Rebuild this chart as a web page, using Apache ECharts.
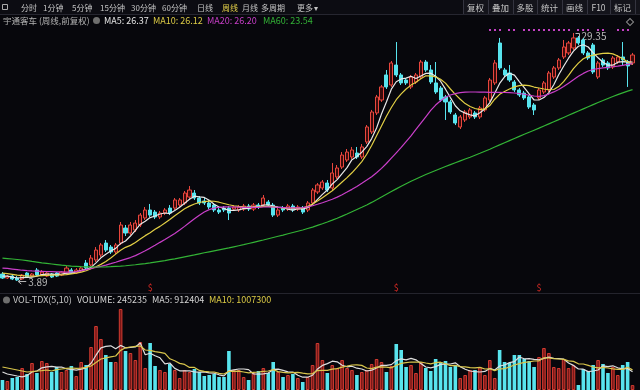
<!DOCTYPE html>
<html><head><meta charset="utf-8">
<script src="https://cdn.jsdelivr.net/npm/echarts@6/dist/echarts.min.js"></script>
<style>html,body{margin:0;padding:0;background:#07070c;}#c{width:640px;height:390px;}</style>
</head><body><div id="c"></div><script>
// ---- data (weekly, front-adjusted) ----
const candles = [ // [open, close, low, high]
[4.61,4.20,4.10,4.81],[4.20,4.40,4.10,4.51],[4.40,4.10,3.99,4.61],[4.20,3.99,3.89,4.40],[4.10,4.51,3.99,4.61],
[4.71,4.30,4.20,4.81],[4.40,4.61,4.30,4.71],[5.02,4.51,4.40,5.22],[4.51,4.81,4.40,5.02],[4.40,4.71,4.30,4.81],
[4.61,4.30,4.20,4.71],[4.71,4.40,4.30,4.81],[4.51,4.81,4.40,4.92],[4.71,5.22,4.61,5.43],[5.02,4.71,4.61,5.22],
[4.71,5.02,4.61,5.22],[4.92,5.22,4.81,5.43],[5.74,5.22,5.02,6.05],[5.53,6.25,5.43,6.56],[6.05,7.07,5.84,7.38],
[6.56,7.59,6.35,7.79],[7.79,7.07,6.87,8.10],[7.38,6.87,6.66,7.59],[6.87,7.59,6.66,7.79],[7.79,9.64,7.59,9.95],
[9.33,8.82,8.51,9.64],[8.82,9.64,8.61,9.95],[9.13,9.84,8.92,10.15],[9.64,10.66,9.43,10.87],[10.36,11.18,10.15,11.49],
[11.18,10.66,10.46,11.80],[10.97,10.46,10.25,11.18],[10.46,10.87,10.25,11.08],[10.87,11.18,10.66,11.38],[11.38,10.87,10.66,11.69],
[11.38,12.21,11.18,12.41],[11.69,12.21,11.49,12.41],[11.90,12.92,11.69,13.13],[12.51,13.23,12.31,13.64],[12.92,12.41,12.21,13.23],
[12.41,11.90,11.69,12.62],[12.10,11.90,11.69,12.41],[11.90,11.49,11.28,12.21],[11.69,11.18,10.97,11.90],[11.18,10.97,10.77,11.38],
[11.38,11.18,10.97,11.59],[11.38,10.87,10.15,11.59],[11.28,11.49,11.08,11.69],[11.18,11.49,10.97,11.69],[11.28,11.59,11.08,11.80],
[11.59,11.28,11.08,11.80],[11.28,11.69,11.08,11.90],[11.69,11.49,11.28,11.90],[11.69,12.41,11.49,12.72],[12.00,11.69,11.49,12.21],
[11.69,10.66,10.46,11.90],[10.66,11.18,10.46,11.38],[11.38,11.18,10.97,11.59],[11.28,11.59,11.08,11.80],[11.59,11.18,10.97,11.80],
[11.28,11.49,11.08,11.69],[11.38,10.97,10.77,11.59],[11.18,11.90,10.97,12.10],[11.90,13.23,11.69,13.44],[13.03,13.75,12.82,13.95],
[13.44,14.05,13.23,14.26],[13.95,13.23,13.03,14.26],[13.44,14.98,13.23,16.00],[14.57,15.49,14.36,15.80],[15.59,16.82,15.39,17.13],
[16.31,17.13,16.11,17.44],[16.62,17.34,16.41,17.65],[17.03,16.62,16.41,17.65],[16.62,17.65,16.41,17.95],[18.16,19.70,17.95,19.90],
[19.19,21.24,18.98,21.45],[21.14,22.78,20.93,22.99],[22.47,23.81,22.27,24.01],[25.04,23.81,23.60,25.55],[24.01,26.27,23.81,26.47],
[26.06,25.04,24.83,28.42],[25.04,24.22,24.01,25.24],[24.52,24.22,24.01,24.73],[23.81,24.83,23.60,25.04],[24.32,25.04,24.11,25.24],
[24.83,26.37,24.63,26.58],[26.37,25.55,25.35,26.58],[25.55,24.32,24.11,26.06],[24.22,23.29,23.09,26.37],[23.70,22.47,22.27,23.91],
[22.78,22.27,20.42,22.99],[22.27,21.24,21.03,22.47],[20.93,20.11,19.90,21.14],[19.70,20.73,19.49,20.93],[20.42,21.24,20.21,21.45],
[20.73,21.45,20.52,21.65],[21.14,20.73,20.52,21.34],[20.73,21.65,20.52,21.86],[21.45,22.68,21.24,22.88],[22.47,24.52,22.27,24.73],
[24.22,26.27,24.01,26.58],[28.32,25.76,25.55,28.84],[25.55,25.04,24.83,25.76],[25.24,24.52,24.32,26.06],[24.32,23.50,23.29,24.52],
[23.50,22.99,22.78,23.70],[23.19,22.68,22.47,23.40],[22.78,21.75,21.55,22.99],[21.96,21.45,20.93,22.16],[22.68,23.50,22.47,23.70],
[23.29,24.22,23.09,24.42],[23.50,25.24,23.29,25.45],[24.83,25.76,24.63,25.96],[25.76,26.58,25.55,26.78],[26.89,27.91,26.68,28.63],
[27.30,28.32,27.09,28.53],[27.81,28.84,27.60,29.35],[28.84,28.32,28.12,29.04],[28.63,27.30,27.09,28.84],[27.30,26.78,26.58,27.50],
[28.12,25.35,25.14,28.32],[24.83,26.27,24.63,26.47],[26.58,26.06,25.86,26.78],[26.27,25.76,25.55,26.47],[25.86,26.78,25.65,26.99],
[26.37,26.89,26.17,27.09],[26.89,26.58,26.06,28.42],[26.37,25.96,23.81,26.58],[26.27,27.09,26.06,27.30]
];
const ma5 = [4.40,4.40,4.30,4.20,4.24,4.26,4.30,4.38,4.55,4.59,4.59,4.55,4.61,4.69,4.69,4.84,5.00,5.08,5.29,5.76,
6.27,6.64,6.97,7.24,7.75,8.00,8.51,9.10,9.72,10.03,10.40,10.56,10.77,10.87,10.81,11.12,11.47,11.88,12.29,12.60,
12.53,12.47,12.18,11.77,11.49,11.34,11.14,11.14,11.20,11.32,11.34,11.51,11.51,11.69,11.72,11.59,11.49,11.42,11.26,11.16,
11.32,11.28,11.42,11.75,12.27,12.78,13.23,13.85,14.30,14.92,15.53,16.35,16.68,17.11,17.69,18.51,19.60,21.03,22.27,23.58,
24.34,24.63,24.71,24.91,24.67,24.94,25.20,25.22,24.91,24.40,23.58,22.72,21.88,21.36,21.12,20.95,20.85,21.16,21.55,22.20,
23.17,24.17,24.85,25.22,25.02,24.36,23.74,23.09,22.47,22.47,22.72,23.23,24.03,25.06,25.94,26.76,27.48,27.99,28.14,27.91,
27.32,26.80,26.35,26.04,26.04,26.35,26.41,26.39,26.37];
const ma10 = [4.71,4.65,4.58,4.50,4.45,4.42,4.40,4.42,4.45,4.48,4.50,4.51,4.52,4.55,4.62,4.70,4.80,4.95,5.15,5.35,
5.60,5.90,6.25,6.65,7.05,7.35,7.55,7.85,8.20,8.55,8.85,9.20,9.50,9.85,10.20,10.60,10.95,11.30,11.58,11.80,
11.95,12.05,12.10,12.08,11.98,11.85,11.72,11.62,11.55,11.50,11.48,11.47,11.50,11.54,11.55,11.50,11.44,11.40,11.38,11.37,
11.38,11.40,11.55,11.80,12.10,12.45,12.80,13.15,13.60,14.05,14.50,15.00,15.55,16.15,16.90,17.80,18.80,19.80,20.80,21.70,
22.50,23.10,23.60,24.00,24.30,24.65,24.95,24.95,24.85,24.60,24.20,23.60,23.05,22.55,22.10,21.80,21.60,21.48,21.55,21.90,
22.55,23.05,23.35,23.60,23.82,23.95,24.00,23.95,23.80,23.70,23.60,23.52,23.55,23.85,24.35,25.00,25.70,26.25,26.70,26.95,
27.08,27.18,27.25,27.28,27.20,26.98,26.70,26.40,26.12];
const ma20 = [5.22,5.18,5.12,5.06,5.00,4.96,4.93,4.91,4.89,4.87,4.85,4.83,4.82,4.81,4.82,4.86,4.95,5.06,5.18,5.28,
5.40,5.53,5.67,5.82,5.98,6.14,6.30,6.50,6.75,7.00,7.27,7.56,7.86,8.15,8.45,8.78,9.12,9.50,9.90,10.28,
10.65,10.98,11.22,11.38,11.46,11.50,11.50,11.49,11.47,11.45,11.44,11.44,11.46,11.49,11.50,11.49,11.46,11.43,11.40,11.39,
11.40,11.43,11.50,11.62,11.77,11.93,12.10,12.28,12.50,12.75,13.02,13.30,13.60,13.92,14.25,14.60,15.00,15.45,15.95,16.50,
17.05,17.60,18.20,18.80,19.45,20.10,20.75,21.40,21.95,22.40,22.75,22.98,23.12,23.22,23.27,23.29,23.29,23.28,23.27,23.26,
23.25,23.25,23.24,23.22,23.19,23.14,23.06,22.96,22.88,22.85,22.92,23.08,23.30,23.55,23.85,24.20,24.55,24.90,25.20,25.45,
25.60,25.70,25.76,25.82,25.88,25.95,26.03,26.12,26.20];
const ma60 = [6.25,6.20,6.15,6.10,6.05,5.98,5.90,5.83,5.76,5.70,5.64,5.58,5.52,5.47,5.43,5.40,5.37,5.35,5.34,5.33,
5.33,5.34,5.36,5.39,5.42,5.46,5.51,5.56,5.62,5.68,5.75,5.83,5.91,5.99,6.08,6.17,6.27,6.37,6.47,6.57,
6.68,6.79,6.89,6.99,7.09,7.19,7.29,7.40,7.51,7.62,7.74,7.86,7.98,8.10,8.23,8.36,8.49,8.61,8.74,8.87,
9.00,9.13,9.28,9.43,9.60,9.77,9.95,10.14,10.34,10.55,10.77,11.00,11.23,11.46,11.70,11.96,12.23,12.51,12.79,13.07,
13.35,13.62,13.88,14.13,14.37,14.60,14.82,15.03,15.24,15.44,15.64,15.84,16.03,16.22,16.41,16.60,16.80,17.00,17.21,17.42,
17.64,17.86,18.08,18.30,18.52,18.74,18.95,19.16,19.37,19.58,19.80,20.02,20.24,20.46,20.68,20.90,21.12,21.34,21.56,21.78,
22.00,22.21,22.42,22.63,22.83,23.02,23.20,23.38,23.54];
// volume in units of 10,000
const volume = [50,45,60,65,110,80,135,85,145,135,90,115,90,100,120,70,140,125,215,320,
255,175,140,140,405,195,185,150,240,110,235,120,100,90,130,100,60,100,90,105,
90,70,75,80,65,65,195,100,100,65,50,85,95,110,85,140,90,65,75,80,
60,40,65,125,235,150,85,125,110,150,110,100,75,90,100,130,155,140,90,120,
230,200,115,125,85,140,110,95,155,140,145,115,125,60,75,100,100,115,75,150,
60,200,140,135,175,175,155,145,115,165,210,185,115,110,155,110,125,25,105,95,
125,150,130,85,115,75,125,140,24.5235];
const volMa5 = [90,80,75,70,66,72,90,95,111,116,118,114,115,106,103,99,104,111,134,174,
211,218,221,206,223,211,213,215,235,176,184,171,161,131,135,108,96,96,96,91,
89,91,86,84,76,71,96,101,105,105,102,80,79,81,85,103,104,98,91,90,
74,64,64,74,105,123,132,144,141,124,116,119,109,105,95,99,110,123,123,127,
147,156,151,158,151,133,115,111,117,128,129,130,136,117,104,95,92,90,93,108,
100,120,125,137,142,165,156,157,153,151,158,164,158,157,155,135,123,105,104,92,
95,100,121,117,121,111,106,108,91.2404];
const volMa10 = [115,110,105,100,95,90,92,95,97,100,95,102,105,108,110,108,109,113,120,138,
155,161,166,170,198,211,215,218,220,200,198,192,188,183,156,146,133,128,113,113,
98,93,91,90,83,80,93,93,94,90,86,88,90,93,95,102,92,88,86,87,
88,84,81,82,97,98,98,104,107,114,119,125,126,123,110,107,114,116,114,111,
123,133,137,140,139,140,135,131,137,139,131,122,123,117,116,112,111,113,105,106,
97,106,107,115,125,132,138,141,145,146,161,160,157,155,153,146,143,131,130,123,
115,111,113,110,106,103,103,114,100.73];
const topSignals = [99,100,101,103,104,106,107,108,109,110,111,112,113,114,115,117,118,119,121,122,125,126,127];
const bottomSignals = [30,80,109];
const periodTabs = ['分时','1分钟','5分钟','15分钟','30分钟','60分钟','日线','周线','月线','多周期','更多'];
const toolButtons = ['复权','叠加','多股','统计','画线','F10','标记'];
const stockTitle = '宇通客车 (周线,前复权)';
const categories = candles.map((d, i) => 'W' + (i + 1));

const RED = '#e8463d', RED_FILL = '#3a0b0b', CYAN = '#58e4ee';
const FONT = "'Noto Sans CJK SC','Noto Sans',sans-serif";
const chart = echarts.init(document.getElementById('c'));
const volData = volume.map((v, i) => ({
  value: v,
  itemStyle: candles[i][1] >= candles[i][0]
    ? { color: '#7a1818', borderColor: '#d23b31', borderWidth: 1 }
    : { color: CYAN, borderColor: CYAN, borderWidth: 0 }
}));
const line = (name, data, color, xi) => ({
  name, type: 'line', data, xAxisIndex: xi, yAxisIndex: xi, showSymbol: false, symbol: 'none',
  lineStyle: { width: 1.2, color }, itemStyle: { color }, z: 3, silent: true
});
chart.setOption({
  animation: false,
  backgroundColor: '#07070c',
  grid: [
    { left: 0, right: 5, top: 28, height: 262 },
    { left: 0, right: 5, top: 305, height: 85 }
  ],
  xAxis: [
    { type: 'category', data: categories, gridIndex: 0, show: false },
    { type: 'category', data: categories, gridIndex: 1, show: false }
  ],
  yAxis: [
    { type: 'value', gridIndex: 0, min: 2.97, max: 29.86, show: false, splitLine: { show: false } },
    { type: 'value', gridIndex: 1, min: 0, max: 425, show: false, splitLine: { show: false } }
  ],
  series: [
    { type: 'candlestick', data: candles, xAxisIndex: 0, yAxisIndex: 0, barWidth: 3.6,
      itemStyle: { color: RED_FILL, color0: CYAN, borderColor: RED, borderColor0: CYAN, borderWidth: 1 }, z: 2 },
    line('MA5', ma5, '#e8e8e8', 0),
    line('MA10', ma10, '#e2cf45', 0),
    line('MA20', ma20, '#c93fc9', 0),
    line('MA60', ma60, '#33b336', 0),
    { type: 'bar', data: volData, xAxisIndex: 1, yAxisIndex: 1, barWidth: 3.6 },
    line('VMA5', volMa5, '#dedede', 1),
    line('VMA10', volMa10, '#d9c64c', 1)
  ]
});

// ---- overlay graphics ----
const g = [];
const txt = (x, y, s, fill, size, align) => g.push({ type: 'text', x, y, silent: true,
  style: { text: s, fill, font: (size || 9) + 'px ' + FONT, textAlign: align || 'left', textVerticalAlign: 'middle' } });
// toolbar
g.push({ type: 'rect', shape: { x: 0, y: 0, width: 640, height: 14 }, style: { fill: '#0c0c12' } });
g.push({ type: 'line', shape: { x1: 0, y1: 14.5, x2: 640, y2: 14.5 }, style: { stroke: '#262630', lineWidth: 1 } });
g.push({ type: 'rect', shape: { x: 2.5, y: 4.5, width: 5, height: 5 }, style: { fill: 'none', stroke: '#aaa', lineWidth: 1 } });
const tabX = [21, 43, 72, 100, 131, 162, 197, 222, 242, 261, 297];
periodTabs.forEach((t, i) => txt(tabX[i], 7.5, t, t === '周线' ? '#e6d24a' : '#c4c4c4', 8));
txt(314, 8, '▾', '#c4c4c4', 8);
g.push({ type: 'rect', shape: { x: 463, y: 0, width: 177, height: 14 }, style: { fill: '#14141b' } });
[463, 488, 513, 537, 562, 587, 610, 635].forEach(x =>
  g.push({ type: 'line', shape: { x1: x + 0.5, y1: 0, x2: x + 0.5, y2: 14 }, style: { stroke: '#34343f', lineWidth: 1 } }));
const btnX = [475.5, 500.5, 525, 549.5, 574.5, 598.5, 622.5];
toolButtons.forEach((t, i) => txt(btnX[i], 7.5, t, '#c4c4c4', 8.5, 'center'));
// price legend
const last = a => a[a.length - 1];
txt(3, 20.5, stockTitle, '#b4b4b4', 8.5);
g.push({ type: 'circle', shape: { cx: 96.5, cy: 20.5, r: 3.5 }, style: { fill: '#6e6e6e' } });
txt(104, 20.5, 'MA5: ' + last(ma5).toFixed(2), '#e6e6e6', 9);
txt(153, 20.5, 'MA10: ' + last(ma10).toFixed(2), '#dccb45', 9);
txt(207, 20.5, 'MA20: ' + last(ma20).toFixed(2), '#c93fc9', 9);
txt(263, 20.5, 'MA60: ' + last(ma60).toFixed(2), '#33b336', 9);
g.push({ type: 'rect', shape: { x: -2.5, y: -2.5, width: 5, height: 5 }, x: 630, y: 22, rotation: Math.PI / 4,
  style: { fill: 'none', stroke: '#8a8a8a', lineWidth: 1 } });
// separator + volume legend
g.push({ type: 'line', shape: { x1: 0, y1: 293.5, x2: 640, y2: 293.5 }, style: { stroke: '#24242d', lineWidth: 1 } });
g.push({ type: 'circle', shape: { cx: 6.5, cy: 300, r: 3.5 }, style: { fill: '#6e6e6e' } });
const fmtVol = v => String(Math.round(v * 10000));
txt(13, 300, 'VOL-TDX(5,10)', '#c4c4c4', 9);
txt(77, 300, 'VOLUME: ' + fmtVol(last(volume)), '#d4d4d4', 9);
txt(152, 300, 'MA5: ' + fmtVol(last(volMa5)), '#d4d4d4', 9);
txt(209, 300, 'MA10: ' + fmtVol(last(volMa10)), '#dccb45', 9);
// signal marks
topSignals.forEach(i => {
  const p = chart.convertToPixel({ gridIndex: 0 }, [i, 0]);
  g.push({ type: 'rect', shape: { x: Math.round(p[0]) - 1, y: 29, width: 2, height: 2 }, style: { fill: '#c440c4' } });
});
bottomSignals.forEach(i => {
  const p = chart.convertToPixel({ gridIndex: 0 }, [i, 0]);
  txt(p[0], 288, '$', '#d42a24', 9, 'center');
});
// extreme labels
let hi = 0, lo = 0;
candles.forEach((d, i) => { if (d[3] > candles[hi][3]) hi = i; if (d[2] < candles[lo][2]) lo = i; });
const ph = chart.convertToPixel({ gridIndex: 0 }, [hi, candles[hi][3]]);
g.push({ type: 'polyline', shape: { points: [[ph[0] + 2, ph[1] + 0.5], [ph[0] + 6, ph[1] + 0.5], [ph[0] + 6, ph[1] + 5]] }, style: { stroke: '#b8b8b8', lineWidth: 1, fill: 'none' } });
txt(ph[0] + 8, ph[1] + 3, candles[hi][3].toFixed(2), '#b8b8b8', 10);
const pl = chart.convertToPixel({ gridIndex: 0 }, [lo, candles[lo][2]]);
g.push({ type: 'line', shape: { x1: pl[0] + 1, y1: pl[1] + 0.5, x2: pl[0] + 9, y2: pl[1] + 0.5 }, style: { stroke: '#b8b8b8', lineWidth: 1 } });
g.push({ type: 'polyline', shape: { points: [[pl[0] + 4, pl[1] - 2], [pl[0] + 1, pl[1] + 0.5], [pl[0] + 4, pl[1] + 3]] }, style: { stroke: '#b8b8b8', lineWidth: 1, fill: 'none' } });
txt(pl[0] + 11, pl[1] + 1, candles[lo][2].toFixed(2), '#b8b8b8', 10);
chart.setOption({ graphic: g });
</script></body></html>
